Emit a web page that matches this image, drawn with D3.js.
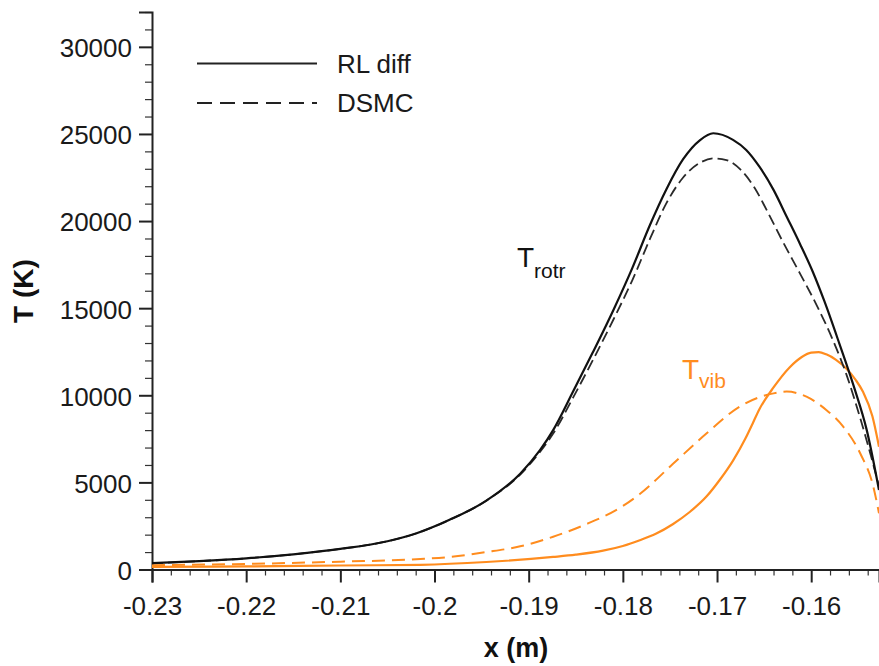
<!DOCTYPE html>
<html>
<head>
<meta charset="utf-8">
<script src="https://cdn.jsdelivr.net/npm/d3@7"></script>
<style>
  html, body { margin: 0; padding: 0; background: #fff; }
  svg { display: block; font-family: "Liberation Sans", Arial, Helvetica, sans-serif; }
</style>
</head>
<body>
<svg id="chart" width="879" height="666"></svg>
<script>
// ---- Data (x in m, T in K) ----
const rlRotrX = [-0.230, -0.225, -0.220, -0.215, -0.210, -0.205, -0.2019, -0.1984, -0.1945, -0.1909, -0.1888, -0.1874, -0.1853, -0.1832, -0.1810, -0.1790, -0.1771, -0.1754, -0.1736, -0.1718, -0.1704, -0.1683, -0.1669, -0.1655, -0.1640, -0.1626, -0.1612, -0.1598, -0.1586, -0.1570, -0.1555, -0.1541, -0.1528];
const rlRotrT = [360, 480, 640, 870, 1180, 1620, 2080, 2850, 3950, 5500, 6850, 8000, 10200, 12450, 14900, 17300, 19800, 21800, 23550, 24650, 25040, 24660, 24080, 23120, 21790, 20250, 18700, 17050, 15400, 12950, 10550, 8000, 4560];

const dsmcRotrX = [-0.230, -0.225, -0.220, -0.215, -0.210, -0.205, -0.2019, -0.1984, -0.1945, -0.1909, -0.1888, -0.1874, -0.1853, -0.1832, -0.1810, -0.1790, -0.1771, -0.1754, -0.1736, -0.1718, -0.1704, -0.1690, -0.1675, -0.1660, -0.1647, -0.1630, -0.1612, -0.1594, -0.1578, -0.1562, -0.1548, -0.1528];
const dsmcRotrT = [360, 480, 640, 870, 1180, 1620, 2080, 2850, 3950, 5450, 6750, 7800, 9850, 12000, 14350, 16600, 19000, 21000, 22500, 23350, 23600, 23500, 22950, 21900, 20600, 18800, 17000, 15150, 13300, 11100, 8700, 4800];

const rlVibX = [-0.230, -0.220, -0.210, -0.2015, -0.1945, -0.1874, -0.1850, -0.1821, -0.1800, -0.1782, -0.1765, -0.1747, -0.1729, -0.1711, -0.1697, -0.1683, -0.1670, -0.1662, -0.1655, -0.1640, -0.1623, -0.1610, -0.1600, -0.1592, -0.1584, -0.1574, -0.1563, -0.1553, -0.1545, -0.1535, -0.1528];
const rlVibT = [150, 180, 230, 270, 430, 720, 850, 1080, 1350, 1680, 2050, 2600, 3300, 4200, 5150, 6250, 7500, 8400, 9200, 10450, 11600, 12200, 12450, 12480, 12350, 12050, 11550, 10900, 10200, 8800, 7050];

const dsmcVibX = [-0.230, -0.220, -0.210, -0.2015, -0.1984, -0.1945, -0.1909, -0.1874, -0.1839, -0.1803, -0.1782, -0.1747, -0.1711, -0.1676, -0.1640, -0.1626, -0.1605, -0.1584, -0.1566, -0.1548, -0.1534, -0.1528];
const dsmcVibT = [250, 320, 450, 600, 720, 1000, 1330, 1880, 2600, 3540, 4330, 6050, 7820, 9350, 10110, 10210, 9920, 9160, 8200, 6670, 4750, 3230];

const xMajorTicks = [-0.23, -0.22, -0.21, -0.2, -0.19, -0.18, -0.17, -0.16];
const xTickLabels = ["-0.23", "-0.22", "-0.21", "-0.2", "-0.19", "-0.18", "-0.17", "-0.16"];
const yMajorTicks = [0, 5000, 10000, 15000, 20000, 25000, 30000];
const yTickLabels = ["0", "5000", "10000", "15000", "20000", "25000", "30000"];

const legendLabels = ["RL diff", "DSMC"];

// ---- Layout ----
const svg = d3.select("#chart");
const mLeft = 152, mRight = 879, mTop = 12, mBottom = 569.5;
const orange = "#ff8c1e";

const x = d3.scaleLinear().domain([-0.23, -0.1528]).range([mLeft, mRight]);
const y = d3.scaleLinear().domain([0, 32000]).range([mBottom, mTop]);

// minor ticks
const xMinor = d3.range(-0.23, -0.1525, 0.002).filter(v => !xMajorTicks.some(m => Math.abs(m - v) < 1e-6));
const yMinor = d3.range(0, 32001, 1000).filter(v => v % 5000 !== 0);

const gxMinor = svg.append("g").attr("transform", `translate(0,${mBottom})`)
  .call(d3.axisBottom(x).tickValues(xMinor).tickSize(6).tickFormat(""));
const gyMinor = svg.append("g").attr("transform", `translate(${mLeft},0)`)
  .call(d3.axisLeft(y).tickValues(yMinor).tickSize(7).tickFormat(""));
[gxMinor, gyMinor].forEach(g => {
  g.select(".domain").remove();
  g.selectAll("line").attr("stroke", "#333").attr("stroke-width", 1.2);
});

const gx = svg.append("g").attr("transform", `translate(0,${mBottom})`)
  .call(d3.axisBottom(x).tickValues(xMajorTicks).tickSize(13).tickPadding(14)
    .tickFormat((d, i) => xTickLabels[i]));
const gy = svg.append("g").attr("transform", `translate(${mLeft},0)`)
  .call(d3.axisLeft(y).tickValues(yMajorTicks).tickSize(13).tickPadding(7)
    .tickFormat((d, i) => yTickLabels[i]));
[gx, gy].forEach(g => {
  g.select(".domain").attr("stroke", "#222").attr("stroke-width", 2);
  g.selectAll(".tick line").attr("stroke", "#222").attr("stroke-width", 2);
  g.selectAll(".tick text").attr("fill", "#1a1a1a")
    .style("font-size", "26px")
    .style("font-family", "'Liberation Sans', Arial, Helvetica, sans-serif");
});
gy.selectAll(".tick text").attr("dy", "0.38em");

// ---- Curves ----
const line = d3.line().x(d => x(d[0])).y(d => y(d[1])).curve(d3.curveMonotoneX);
const zip = (a, b) => a.map((v, i) => [v, b[i]]);

svg.append("clipPath").attr("id", "plotclip")
  .append("rect").attr("x", mLeft).attr("y", mTop).attr("width", mRight - mLeft + 2).attr("height", mBottom - mTop);

const plot = svg.append("g").attr("clip-path", "url(#plotclip)");

plot.append("path").datum(zip(dsmcVibX, dsmcVibT)).attr("d", line)
  .attr("fill", "none").attr("stroke", orange).attr("stroke-width", 2).attr("stroke-dasharray", "13,7");
plot.append("path").datum(zip(rlVibX, rlVibT)).attr("d", line)
  .attr("fill", "none").attr("stroke", orange).attr("stroke-width", 2.2);
plot.append("path").datum(zip(dsmcRotrX, dsmcRotrT)).attr("d", line)
  .attr("fill", "none").attr("stroke", "#2a2a2a").attr("stroke-width", 1.8).attr("stroke-dasharray", "11,5");
plot.append("path").datum(zip(rlRotrX, rlRotrT)).attr("d", line)
  .attr("fill", "none").attr("stroke", "#111").attr("stroke-width", 2.2);

// ---- Legend ----
const legY = [63.5, 103];
const legDash = [null, "15,8"];
legendLabels.forEach((lab, i) => {
  svg.append("line").attr("x1", 197).attr("x2", 317).attr("y1", legY[i]).attr("y2", legY[i])
    .attr("stroke", "#222").attr("stroke-width", 2)
    .attr("stroke-dasharray", legDash[i]);
  svg.append("text").attr("x", 337).attr("y", legY[i] + 9).text(lab)
    .attr("fill", "#1a1a1a").style("font-size", "26px");
});

// ---- Curve labels ----
const tr = svg.append("text").attr("x", 517).attr("y", 267).attr("fill", "#111").style("font-size", "28px");
tr.append("tspan").text("T");
tr.append("tspan").attr("dy", 11).style("font-size", "21px").text("rotr");

const tv = svg.append("text").attr("x", 682).attr("y", 379).attr("fill", orange).style("font-size", "28px");
tv.append("tspan").text("T");
tv.append("tspan").attr("dy", 9).style("font-size", "21px").text("vib");

// ---- Axis titles ----
svg.append("text").attr("x", 516).attr("y", 657).attr("text-anchor", "middle")
  .attr("fill", "#111").style("font-size", "27px").style("font-weight", "bold").text("x (m)");
svg.append("text").attr("transform", "translate(33,291) rotate(-90)").attr("text-anchor", "middle")
  .attr("fill", "#111").style("font-size", "28px").style("font-weight", "bold").text("T (K)");
</script>
</body>
</html>
